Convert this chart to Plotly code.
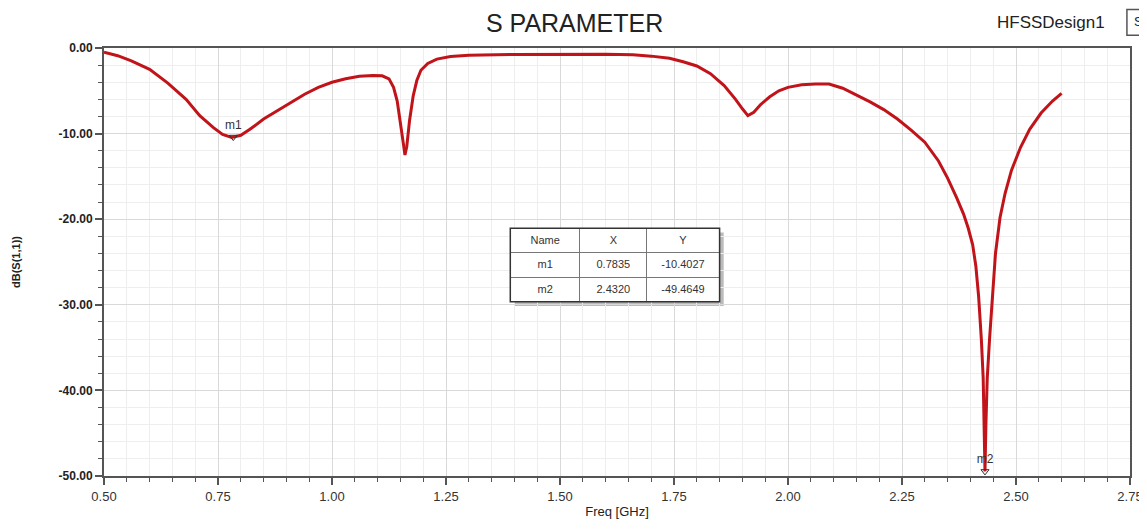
import plotly.graph_objects as go

# ---- data ----
freq_ghz = [0.50, 0.53, 0.56, 0.60, 0.64, 0.68, 0.71, 0.74, 0.76, 0.78, 0.80, 0.82,
            0.85, 0.88, 0.91, 0.94, 0.97, 1.00, 1.03, 1.06, 1.09, 1.11, 1.125, 1.135,
            1.143, 1.150, 1.156, 1.160, 1.164, 1.170, 1.178, 1.186, 1.195, 1.21, 1.23,
            1.26, 1.30, 1.40, 1.50, 1.60, 1.66, 1.70, 1.74, 1.77, 1.80, 1.83, 1.86,
            1.885, 1.90, 1.912, 1.925, 1.94, 1.96, 1.98, 2.00, 2.03, 2.06, 2.09, 2.12,
            2.15, 2.18, 2.21, 2.24, 2.27, 2.30, 2.33, 2.35, 2.37, 2.385, 2.395, 2.405,
            2.412, 2.418, 2.424, 2.428, 2.430, 2.432, 2.434, 2.437, 2.442, 2.448, 2.455,
            2.465, 2.476, 2.49, 2.51, 2.53, 2.555, 2.58, 2.60]
s11_db = [-0.5, -0.9, -1.5, -2.5, -4.1, -6.0, -7.9, -9.3, -10.1, -10.45, -10.2, -9.5,
          -8.3, -7.3, -6.3, -5.4, -4.6, -4.0, -3.6, -3.3, -3.2, -3.25, -3.6, -4.6,
          -6.2, -8.5, -11.0, -12.5, -11.5, -8.5, -5.6, -3.8, -2.6, -1.8, -1.3,
          -1.0, -0.85, -0.75, -0.7, -0.72, -0.8, -0.95, -1.2, -1.6, -2.1, -3.0, -4.4,
          -6.0, -7.1, -7.9, -7.5, -6.6, -5.7, -5.0, -4.6, -4.3, -4.2, -4.2, -4.7,
          -5.5, -6.3, -7.2, -8.3, -9.6, -11.0, -13.2, -15.2, -17.5, -19.4, -21.0, -23.0,
          -25.5, -29.0, -34.0, -38.5, -44.0, -49.46, -44.0, -38.5, -34.0, -29.0, -24.0,
          -19.8, -17.0, -14.3, -11.6, -9.5, -7.6, -6.2, -5.3]

marker_names = ["m1", "m2"]
marker_x = [0.7835, 2.4320]
marker_y = [-10.4027, -49.4649]

table_header = ["Name", "X", "Y"]

x_ticks = [0.50, 0.75, 1.00, 1.25, 1.50, 1.75, 2.00, 2.25, 2.50, 2.75]
y_ticks = [0.0, -10.0, -20.0, -30.0, -40.0, -50.0]

FONT = "Liberation Sans, Arial, sans-serif"
GRID = "#d9d9d9"
MINOR = "#eeeeee"

# table placement (paper coords)
TX0, TX1, TY0, TY1 = 0.396, 0.600, 0.407, 0.579

fig = go.Figure()

fig.add_trace(go.Scatter(
    x=freq_ghz, y=s11_db, mode="lines",
    line=dict(color="#c0141a", width=3),
    hoverinfo="skip", showlegend=False))

fig.add_trace(go.Scatter(
    x=marker_x, y=marker_y, mode="markers+text",
    marker=dict(symbol="triangle-down-open", size=7, color="#333333", line=dict(width=1)),
    text=marker_names, textposition="top center",
    textfont=dict(family=FONT, size=12, color="#333333"),
    hoverinfo="skip", showlegend=False))

fig.add_trace(go.Table(
    domain=dict(x=[TX0, TX1], y=[TY0, TY1]),
    columnwidth=[70, 67, 73],
    header=dict(values=table_header, height=24,
                fill_color="white", line=dict(color="#777777", width=1),
                font=dict(family=FONT, size=11, color="#333333"), align="center"),
    cells=dict(values=[marker_names,
                       [f"{v:.4f}" for v in marker_x],
                       [f"{v:.4f}" for v in marker_y]],
               height=25, fill_color="white", line=dict(color="#777777", width=1),
               font=dict(family=FONT, size=11, color="#333333"), align="center")))

fig.update_layout(
    width=1147, height=531,
    margin=dict(l=96, r=25, t=40, b=63),
    paper_bgcolor="white", plot_bgcolor="white",
    title=dict(text="S PARAMETER", x=0.494, xref="container", xanchor="center",
               y=0.971, yref="container", yanchor="middle",
               font=dict(family=FONT, size=25, color="#222222")),
    annotations=[
        dict(text="HFSSDesign1", xref="paper", yref="paper", x=0.978, y=1.06,
             xanchor="right", yanchor="middle", showarrow=False,
             font=dict(family=FONT, size=17, color="#222222")),
        dict(text="S", xref="paper", yref="paper", x=1.002, y=1.062,
             xanchor="left", yanchor="middle", showarrow=False,
             font=dict(family=FONT, size=13, color="#222222")),
    ],
    shapes=[
        dict(type="rect", xref="paper", yref="paper", x0=0.997, x1=1.03,
             y0=1.03, y1=1.09, line=dict(color="#555555", width=1.5)),
        # table shadow
        dict(type="rect", xref="paper", yref="paper", x0=TX0 + 0.004, x1=TX1 + 0.004,
             y0=TY0 - 0.01, y1=TY1 - 0.01, fillcolor="#bbbbbb",
             line=dict(width=0), layer="below"),
        # table outer border
        dict(type="rect", xref="paper", yref="paper", x0=TX0, x1=TX1,
             y0=TY0, y1=TY1, line=dict(color="#333333", width=1.5), layer="above"),
    ],
)

fig.update_xaxes(
    range=[0.5, 2.75], tickvals=x_ticks, ticktext=[f"{v:.2f}" for v in x_ticks],
    title=dict(text="Freq [GHz]", font=dict(family=FONT, size=13, color="#222222"), standoff=4),
    tickfont=dict(family=FONT, size=13, color="#333333"),
    showgrid=True, gridcolor=GRID, gridwidth=1,
    showline=True, linecolor="#555555", linewidth=2, mirror=True,
    ticks="outside", ticklen=7, tickcolor="#555555", tickwidth=2,
    minor=dict(dtick=0.05, showgrid=True, gridcolor=MINOR, ticks="outside",
               ticklen=4, tickcolor="#555555", tickwidth=1),
    zeroline=False, automargin=False)

fig.update_yaxes(
    range=[-50, 0], tickvals=y_ticks, ticktext=[f"{v:.2f}" for v in y_ticks],
    title=dict(text="dB(S(1,1))", font=dict(family=FONT, size=11, color="#222222", weight="bold"), standoff=36),
    tickfont=dict(family=FONT, size=12, color="#222222", weight="bold"),
    showgrid=True, gridcolor=GRID, gridwidth=1,
    showline=True, linecolor="#555555", linewidth=2, mirror=True,
    ticks="outside", ticklen=7, tickcolor="#555555", tickwidth=2,
    minor=dict(dtick=2, showgrid=True, gridcolor=MINOR, ticks="outside",
               ticklen=4, tickcolor="#555555", tickwidth=1),
    zeroline=False, automargin=False)

fig.write_html("out.html")
